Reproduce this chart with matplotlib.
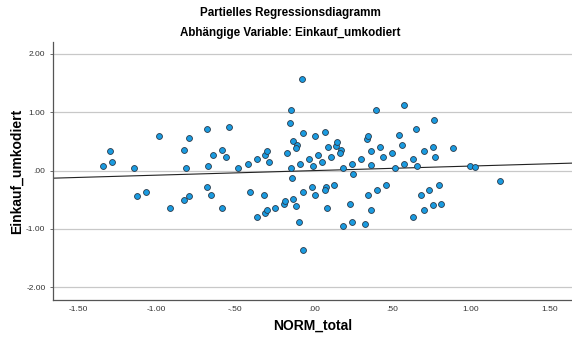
import matplotlib
matplotlib.use('Agg')
from matplotlib import pyplot as plt
from matplotlib.ticker import FuncFormatter, MultipleLocator
import numpy as np

plt.rcParams['font.family'] = ['Liberation Sans', 'DejaVu Sans']

# partial residuals
norm_total = [
    -1.339, -1.299, -1.282, -1.146, -1.125, -1.068, -0.915, -0.987,
    -0.824, -0.792, -0.813, -0.677, -0.539, -0.639, -0.582, -0.559, -0.673,
    -0.480, -0.420, -0.363, -0.308, -0.297, -0.282, -0.168, -0.146, -0.148,
    -0.134, -0.104, -0.110, -0.146, -0.140,
    -0.677, -0.654, -0.824, -0.792, -0.584, -0.403, -0.318, -0.363, -0.308,
    -0.297, -0.248, -0.191, -0.183, -0.134, -0.110, -0.094,
    -0.076, 0.397, 0.578, -0.068, 0.011, 0.070, -0.089, -0.030, -0.006,
    0.027, 0.051, 0.091, 0.108, 0.140, 0.148, 0.172, 0.166, 0.187, 0.244,
    0.250, 0.301, 0.338, 0.346, 0.368, 0.365, 0.425, 0.441, 0.497, 0.546,
    0.565, 0.520, 0.578, 0.635, 0.654, 0.658,
    -0.068, -0.011, 0.011, 0.076, 0.070, 0.127, 0.085, 0.187, 0.244, 0.231,
    0.327, 0.346, 0.368, 0.403, 0.461, 0.635, -0.068,
    0.769, 0.701, 0.758, 0.775, 0.890, 0.994, 1.025, 1.185, 0.682, 0.737,
    0.796, 0.701, 0.758, 0.809,
]
einkauf = [
    0.074, 0.330, 0.154, 0.039, -0.439, -0.359, -0.644, 0.586,
    0.359, 0.559, 0.039, 0.713, 0.747, 0.274, 0.354, 0.227, 0.074,
    0.039, 0.120, 0.200, 0.274, 0.330, 0.154, 0.308, 1.038, 0.821,
    0.508, 0.439, 0.381, 0.039, -0.125,
    -0.285, -0.410, -0.496, -0.439, -0.644, -0.364, -0.410, -0.798, -0.723,
    -0.667, -0.644, -0.564, -0.518, -0.491, -0.615, -0.877,
    1.578, 1.031, 1.116, 0.638, 0.586, 0.667, 0.120, 0.200, 0.074,
    0.274, 0.154, 0.405, 0.227, 0.427, 0.484, 0.359, 0.308, 0.039, 0.120,
    -0.051, 0.200, 0.535, 0.586, 0.330, 0.103, 0.405, 0.227, 0.308, 0.610,
    0.432, 0.039, 0.120, 0.193, 0.713, 0.074,
    -0.359, -0.285, -0.410, -0.279, -0.330, -0.251, -0.644, -0.952, -0.877, -0.564,
    -0.918, -0.410, -0.667, -0.330, -0.251, -0.798, -1.356,
    0.867, 0.330, 0.405, 0.227, 0.381, 0.074, 0.056, -0.176, -0.410, -0.330,
    -0.251, -0.667, -0.593, -0.564,
]
slope = 0.078
intercept = 0.0

def spss_fmt(v, pos):
    s = '%.2f' % v
    if s.startswith('0.'):
        s = s[1:]
    elif s.startswith('-0.'):
        s = '-' + s[2:]
    if s == '-.00':
        s = '.00'
    return s

fig = plt.figure(figsize=(5.72, 3.38), dpi=100)
ax = fig.add_axes([0.0927, 0.112, 0.9073, 0.763])

ax.set_xlim(-1.66, 1.645)
ax.set_ylim(-2.22, 2.2)

ax.yaxis.set_major_locator(MultipleLocator(1.0))
ax.xaxis.set_major_locator(MultipleLocator(0.5))
ax.xaxis.set_major_formatter(FuncFormatter(spss_fmt))
ax.yaxis.set_major_formatter(FuncFormatter(spss_fmt))
ax.grid(axis='y', color='#c8c8c8', linewidth=0.9)
ax.set_axisbelow(True)

xs = np.array(ax.get_xlim())
ax.plot(xs, intercept + slope * xs, color='#222222', linewidth=0.8, zorder=2)

ax.scatter(norm_total, einkauf, s=18, color='#1a9be0', edgecolor='#2a3a4a',
           linewidth=0.6, zorder=3)

for side in ['top', 'right']:
    ax.spines[side].set_visible(False)
for side in ['left', 'bottom']:
    ax.spines[side].set_color('#555555')
    ax.spines[side].set_linewidth(0.9)
ax.tick_params(axis='both', labelsize=6, labelcolor='#333333', color='#555555', length=2, width=0.6)
ax.tick_params(axis='x', length=0, pad=4)

ax.set_xlabel('NORM_total', fontsize=10, fontweight='bold', va='center')
ax.xaxis.set_label_coords(0.5, -0.1)
ax.set_ylabel('Einkauf_umkodiert', fontsize=10, fontweight='bold', va='center')
ax.yaxis.set_label_coords(-0.069, 0.5)

fig.text(0.508, 0.962, 'Partielles Regressionsdiagramm', ha='center', va='center',
         fontsize=8.4, fontweight='bold')
fig.text(0.508, 0.902, 'Abhängige Variable: Einkauf_umkodiert', ha='center', va='center',
         fontsize=8.4, fontweight='bold')

fig.savefig('out.png', dpi=100)
